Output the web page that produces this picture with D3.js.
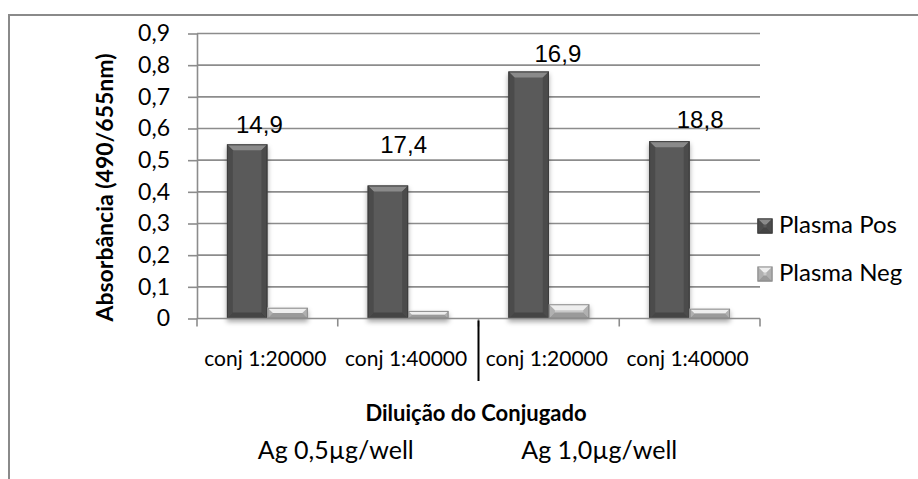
<!DOCTYPE html>
<html>
<head>
<meta charset="utf-8">
<script src="https://cdn.jsdelivr.net/npm/d3@7/dist/d3.min.js"></script>
<style>
  body { margin: 0; background: #fff; }
  svg { display: block; }
</style>
</head>
<body>
<svg id="chart" width="918" height="479"></svg>
<script>
// Chart data
const categories = ["conj 1:20000", "conj 1:40000", "conj 1:20000", "conj 1:40000"];
const groups = ["Ag 0,5µg/well", "Ag 1,0µg/well"];
const seriesNames = ["Plasma Pos", "Plasma Neg"];
const plasmaPos = [0.55, 0.42, 0.78, 0.56];
const plasmaNeg = [0.034, 0.024, 0.045, 0.031];
const dataLabels = ["14,9", "17,4", "16,9", "18,8"];
const yTicks = [0, 0.1, 0.2, 0.3, 0.4, 0.5, 0.6, 0.7, 0.8, 0.9];

const svg = d3.select("#chart");
const sans = "Lato, 'Open Sans', sans-serif";

// Plot area
const plotLeft = 197, plotRight = 760, plotTop = 33.5, plotBottom = 318.5;

// Outer frame
svg.append("rect")
    .attr("x", 9).attr("y", 15)
    .attr("width", 940).attr("height", 500)
    .attr("fill", "none")
    .attr("stroke", "#8a8a8a")
    .attr("stroke-width", 2);

// Scales
const x = d3.scaleBand()
    .domain(d3.range(categories.length))
    .range([plotLeft, plotRight])
    .padding(0);

const xInner = d3.scaleBand()
    .domain(seriesNames)
    .range([0, x.bandwidth()])
    .paddingInner(0)
    .paddingOuter(0.74);

const y = d3.scaleLinear()
    .domain([0, 0.9])
    .range([plotBottom, plotTop]);

const fmt = d => d === 0 ? "0" : d3.format(".1f")(d).replace(".", ",");

// Gridlines
svg.append("g")
    .selectAll("line")
    .data(yTicks.slice(1))
    .enter().append("line")
    .attr("x1", plotLeft).attr("x2", plotRight)
    .attr("y1", d => y(d)).attr("y2", d => y(d))
    .attr("stroke", "#8c8c8c")
    .attr("stroke-width", 1.6);

// Y axis
const yAxis = svg.append("g")
    .attr("transform", `translate(${plotLeft},0)`)
    .call(d3.axisLeft(y).tickValues(yTicks).tickFormat(fmt).tickSize(9).tickSizeOuter(0).tickPadding(18));
yAxis.select(".domain").attr("stroke", "#8c8c8c").attr("stroke-width", 1.6);
yAxis.selectAll(".tick line").attr("stroke", "#8c8c8c").attr("stroke-width", 1.6);
yAxis.selectAll(".tick text")
    .attr("fill", "#000")
    .style("font-family", sans)
    .style("font-size", "23px");

// Drop shadow for bars
const defs = svg.append("defs");
const f = defs.append("filter").attr("id", "shadow")
    .attr("x", "-20%").attr("y", "-20%").attr("width", "140%").attr("height", "140%");
f.append("feDropShadow")
    .attr("dx", 0).attr("dy", 3)
    .attr("stdDeviation", 2.5)
    .attr("flood-color", "#000")
    .attr("flood-opacity", 0.35);

// Bevelled bar helper
const barStyles = {
    "Plasma Pos": { face: "#5a5a5a", top: "#8a8a8a", side: "#4c4c4c", bottom: "#444", edge: "#3c3c3c" },
    "Plasma Neg": { face: "#c9c9c9", top: "#eeeeee", side: "#b0b0b0", bottom: "#9a9a9a", edge: "#8a8a8a" }
};

function bevelBar(g, bx, by, w, h, st) {
    const b = Math.min(6, h / 2, w / 2);
    const bar = g.append("g");
    bar.append("rect")
        .attr("x", bx).attr("y", by).attr("width", w).attr("height", h)
        .attr("fill", st.face);
    const poly = (pts, fill) => bar.append("polygon")
        .attr("points", pts.map(p => p.join(",")).join(" "))
        .attr("fill", fill);
    poly([[bx, by], [bx + w, by], [bx + w - b, by + b], [bx + b, by + b]], st.top);
    poly([[bx, by], [bx + b, by + b], [bx + b, by + h - b], [bx, by + h]], st.side);
    poly([[bx + w, by], [bx + w - b, by + b], [bx + w - b, by + h - b], [bx + w, by + h]], st.side);
    poly([[bx, by + h], [bx + b, by + h - b], [bx + w - b, by + h - b], [bx + w, by + h]], st.bottom);
    bar.append("rect")
        .attr("x", bx + 0.5).attr("y", by + 0.5).attr("width", w - 1).attr("height", h - 1)
        .attr("fill", "none")
        .attr("stroke", st.edge)
        .attr("stroke-width", 1);
}

// Bars
const barsG = svg.append("g").attr("filter", "url(#shadow)");
categories.forEach((c, i) => {
    const vals = { "Plasma Pos": plasmaPos[i], "Plasma Neg": plasmaNeg[i] };
    seriesNames.forEach(s => {
        const bx = x(i) + xInner(s);
        bevelBar(barsG, bx, y(vals[s]), xInner.bandwidth(), y(0) - y(vals[s]), barStyles[s]);
    });
});

// X axis line and boundary ticks
svg.append("line")
    .attr("x1", plotLeft).attr("x2", plotRight)
    .attr("y1", y(0)).attr("y2", y(0))
    .attr("stroke", "#8c8c8c").attr("stroke-width", 1.6);
svg.append("g")
    .selectAll("line")
    .data(d3.range(categories.length + 1))
    .enter().append("line")
    .attr("x1", d => d < categories.length ? x(d) : plotRight)
    .attr("x2", d => d < categories.length ? x(d) : plotRight)
    .attr("y1", y(0)).attr("y2", y(0) + 8)
    .attr("stroke", "#8c8c8c").attr("stroke-width", 1.6);

// Category labels
const xAxis = svg.append("g")
    .attr("transform", `translate(0,${y(0)})`)
    .call(d3.axisBottom(x).tickFormat(i => categories[i]).tickSize(0).tickPadding(0));
xAxis.select(".domain").remove();
xAxis.selectAll(".tick text")
    .attr("y", 47.5).attr("dy", 0)
    .attr("dx", -2)
    .attr("fill", "#000")
    .style("font-family", sans)
    .style("font-size", "21px");

// Separator between antigen groups
svg.append("line")
    .attr("x1", x(2)).attr("x2", x(2))
    .attr("y1", y(0) + 2).attr("y2", 381)
    .attr("stroke", "#000").attr("stroke-width", 2);

// Data labels (Excel labels were moved by hand)
const labelDx = [-8, -4.5, 9, 10.5];
const labelDy = [-11.6, -32.5, -9.8, -13.2];
svg.append("g")
    .selectAll("text")
    .data(dataLabels)
    .enter().append("text")
    .attr("x", (d, i) => x(i) + x.bandwidth() / 2 + labelDx[i])
    .attr("y", (d, i) => y(plasmaPos[i]) + labelDy[i])
    .attr("text-anchor", "middle")
    .style("font-family", "'Liberation Sans', Arial, sans-serif")
    .style("font-size", "24px")
    .attr("fill", "#000")
    .text(d => d);

// Legend
const legend = svg.append("g");
seriesNames.forEach((s, i) => {
    const ly = 218.5 + i * 48;
    bevelBar(legend, 757.5, ly, 15, 15, barStyles[s]);
    legend.append("text")
        .attr("x", 779).attr("y", ly + 14.5)
        .style("font-family", sans)
        .style("font-size", "24px")
        .attr("fill", "#000")
        .text(s);
});

// Axis titles
svg.append("text")
    .attr("transform", `translate(113,187.5) rotate(-90)`)
    .attr("text-anchor", "middle")
    .style("font-family", sans)
    .style("font-size", "23px")
    .style("font-weight", "bold")
    .attr("fill", "#000")
    .text("Absorbância (490/655nm)");

svg.append("text")
    .attr("x", 476).attr("y", 420.5)
    .attr("text-anchor", "middle")
    .style("font-family", sans)
    .style("font-size", "22px")
    .style("font-weight", "bold")
    .attr("fill", "#000")
    .text("Diluição do Conjugado");

// Antigen group labels
const groupDx = [-2, -20];
svg.append("g")
    .selectAll("text")
    .data(groups)
    .enter().append("text")
    .attr("x", (d, i) => (x(i * 2) + x(i * 2 + 1) + x.bandwidth()) / 2 + groupDx[i])
    .attr("y", 458.5)
    .attr("text-anchor", "middle")
    .style("font-family", sans)
    .style("font-size", "25px")
    .attr("fill", "#000")
    .text(d => d);
</script>
</body>
</html>
